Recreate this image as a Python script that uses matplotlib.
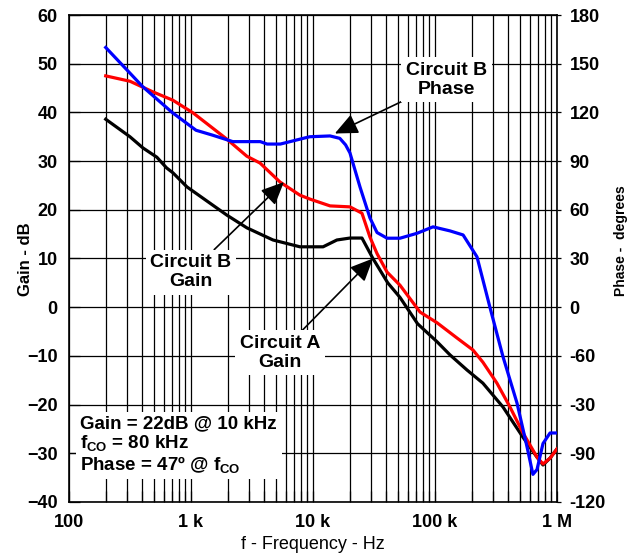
import matplotlib
matplotlib.use("Agg")
import matplotlib.pyplot as plt
from matplotlib.ticker import FixedLocator, LogLocator, NullFormatter

plt.rcParams['font.family'] = ['Liberation Sans', 'DejaVu Sans']
plt.rcParams['font.weight'] = 'bold'
plt.rcParams['mathtext.fontset'] = 'custom'
plt.rcParams['mathtext.rm'] = 'Liberation Sans:bold'
plt.rcParams['mathtext.default'] = 'rm'

# Circuit B phase (degrees, right axis)
phase_b_freq = [200, 300, 400, 700, 1100, 1500, 2200, 3700, 4200, 5400, 7800, 9400,
                13800, 16600, 18500, 20100, 24300, 29300, 33500, 40500, 51700, 71100,
                96400, 132800, 170000, 221000, 282000, 361000, 470000, 568000, 635000,
                686000, 768000, 877000, 1000000]
phase_b_deg = [160, 146, 136, 120, 109, 106, 102, 102, 100.5, 100.5, 103.5, 105,
               105.5, 104, 100, 95, 74, 55, 46, 42.5, 42.5, 45.5,
               49.5, 47, 44.5, 31, 0, -30.5, -59, -86, -103,
               -100, -84, -77.5, -77.5]

# Circuit B gain (dB)
gain_b_freq = [200, 316, 489, 711, 1040, 1970, 2870, 3680, 5370, 7820, 9440,
               13800, 20100, 25200, 29300, 33500, 40500, 51700, 75400, 104000,
               151000, 205000, 247000, 322000, 412000, 526000, 686000, 768000,
               877000, 1000000]
gain_b_db = [47.5, 46.4, 44.2, 42.5, 39.9, 34.5, 31.0, 29.6, 25.7, 23.0, 22.2,
             20.8, 20.6, 19.3, 14.4, 11.0, 7.2, 4.5, -1.0, -3.2,
             -6.3, -8.8, -11.3, -15.6, -20.5, -25.8, -30.8, -32.2,
             -31.0, -29.1]

# Circuit A gain (dB)
gain_a_freq = [200, 316, 404, 525, 631, 711, 927, 1970, 2870, 4700, 7820, 12100,
               15700, 20100, 25200, 31000, 41000, 51700, 72000, 104000, 132800,
               183000, 247000, 361000, 526000, 686000, 768000, 877000, 1000000]
gain_a_db = [38.6, 35.0, 32.7, 30.8, 28.6, 27.6, 24.7, 18.9, 16.3, 13.8, 12.4, 12.4,
             13.8, 14.2, 14.2, 10.0, 5.0, 2.0, -3.4, -7.1, -9.8,
             -12.9, -15.6, -20.5, -26.7, -30.8, -32.4, -31.0, -29.1]

gain_ticks = [-40, -30, -20, -10, 0, 10, 20, 30, 40, 50, 60]
phase_ticks = [-120, -90, -60, -30, 0, 30, 60, 90, 120, 150, 180]
phase_labels = ['-120', '-90', '-30', '-60', '0', '30', '60', '90', '120', '150', '180']
freq_ticks = [100, 1e3, 1e4, 1e5, 1e6]
freq_labels = ['100', '1 k', '10 k', '100 k', '1 M']

fig = plt.figure(figsize=(6.3, 5.58), dpi=100)
ax = fig.add_axes([0.1095, 0.1004, 0.7746, 0.8727])

ax.set_xscale('log')
ax.set_xlim(100, 1e6)
ax.set_ylim(-40, 60)
ax.set_xticks(freq_ticks)
ax.set_xticklabels(freq_labels)
ax.xaxis.set_minor_locator(LogLocator(base=10, subs=range(2, 10)))
ax.xaxis.set_minor_formatter(NullFormatter())
ax.yaxis.set_major_locator(FixedLocator(gain_ticks))
ax.grid(True, which='both', axis='x', color='black', lw=0.9)
ax.grid(True, which='major', axis='y', color='black', lw=0.9)
ax.tick_params(which='both', direction='in', length=8, width=0.9, labelsize=13,
               top=False, right=False)
ax.tick_params(axis='x', pad=9)
ax.tick_params(axis='y', pad=8)
for sp in ax.spines.values():
    sp.set_linewidth(1.2)

ax.plot(gain_a_freq, gain_a_db, color='black', lw=2.3, zorder=3)
ax.plot(gain_b_freq, gain_b_db, color='#ff0000', lw=2.3, zorder=3)

ax2 = ax.twinx()
ax2.set_ylim(-120, 180)
ax2.set_yticks(phase_ticks)
ax2.set_yticklabels(phase_labels)
ax2.tick_params(direction='out', length=3, width=0.9, labelsize=13, pad=6)
for sp in ax2.spines.values():
    sp.set_visible(False)
ax2.plot(phase_b_freq, phase_b_deg, color='#0000ff', lw=2.3, zorder=3)

ax.set_xlabel('f - Frequency - Hz', fontsize=13, labelpad=3)
fig.text(0.04, 0.535, 'Gain - dB', rotation=90, ha='center', va='center', fontsize=12)
fig.text(0.985, 0.568, 'Phase -  degrees', rotation=90, ha='center', va='center', fontsize=10)

box = dict(boxstyle='square,pad=0.25', fc='white', ec='none')
arrow = dict(arrowstyle='-|>,head_length=1.0,head_width=0.45', color='black', lw=1.2,
             shrinkA=0, shrinkB=0)

ax2.annotate('Circuit B\nPhase', xy=(15100, 107), xytext=(125000, 140),
             ha='center', va='center', fontsize=14, linespacing=1.1,
             bbox=box, arrowprops=arrow, zorder=5)
ax2.annotate('Circuit B\nGain', xy=(5780, 3 * 25.7), xytext=(1000, 3 * 7.2),
             ha='center', va='center', fontsize=14, linespacing=1.1,
             bbox=box, arrowprops=arrow, zorder=5)
ax2.annotate('Circuit A\nGain', xy=(31000, 3 * 10.0), xytext=(5370, 3 * -9.4),
             ha='center', va='center', fontsize=14, linespacing=1.1,
             bbox=box, arrowprops=arrow, zorder=5)

ax2.text(124, 3 * -28.3,
         'Gain = 22dB @ 10 kHz\nf$_{CO}$ = 80 kHz\nPhase = 47º @ f$_{CO}$',
         ha='left', va='center', fontsize=13.5, linespacing=1.05,
         bbox=dict(boxstyle='square,pad=0.25', fc='white', ec='none'), zorder=5)

fig.savefig('out.png', dpi=100)
